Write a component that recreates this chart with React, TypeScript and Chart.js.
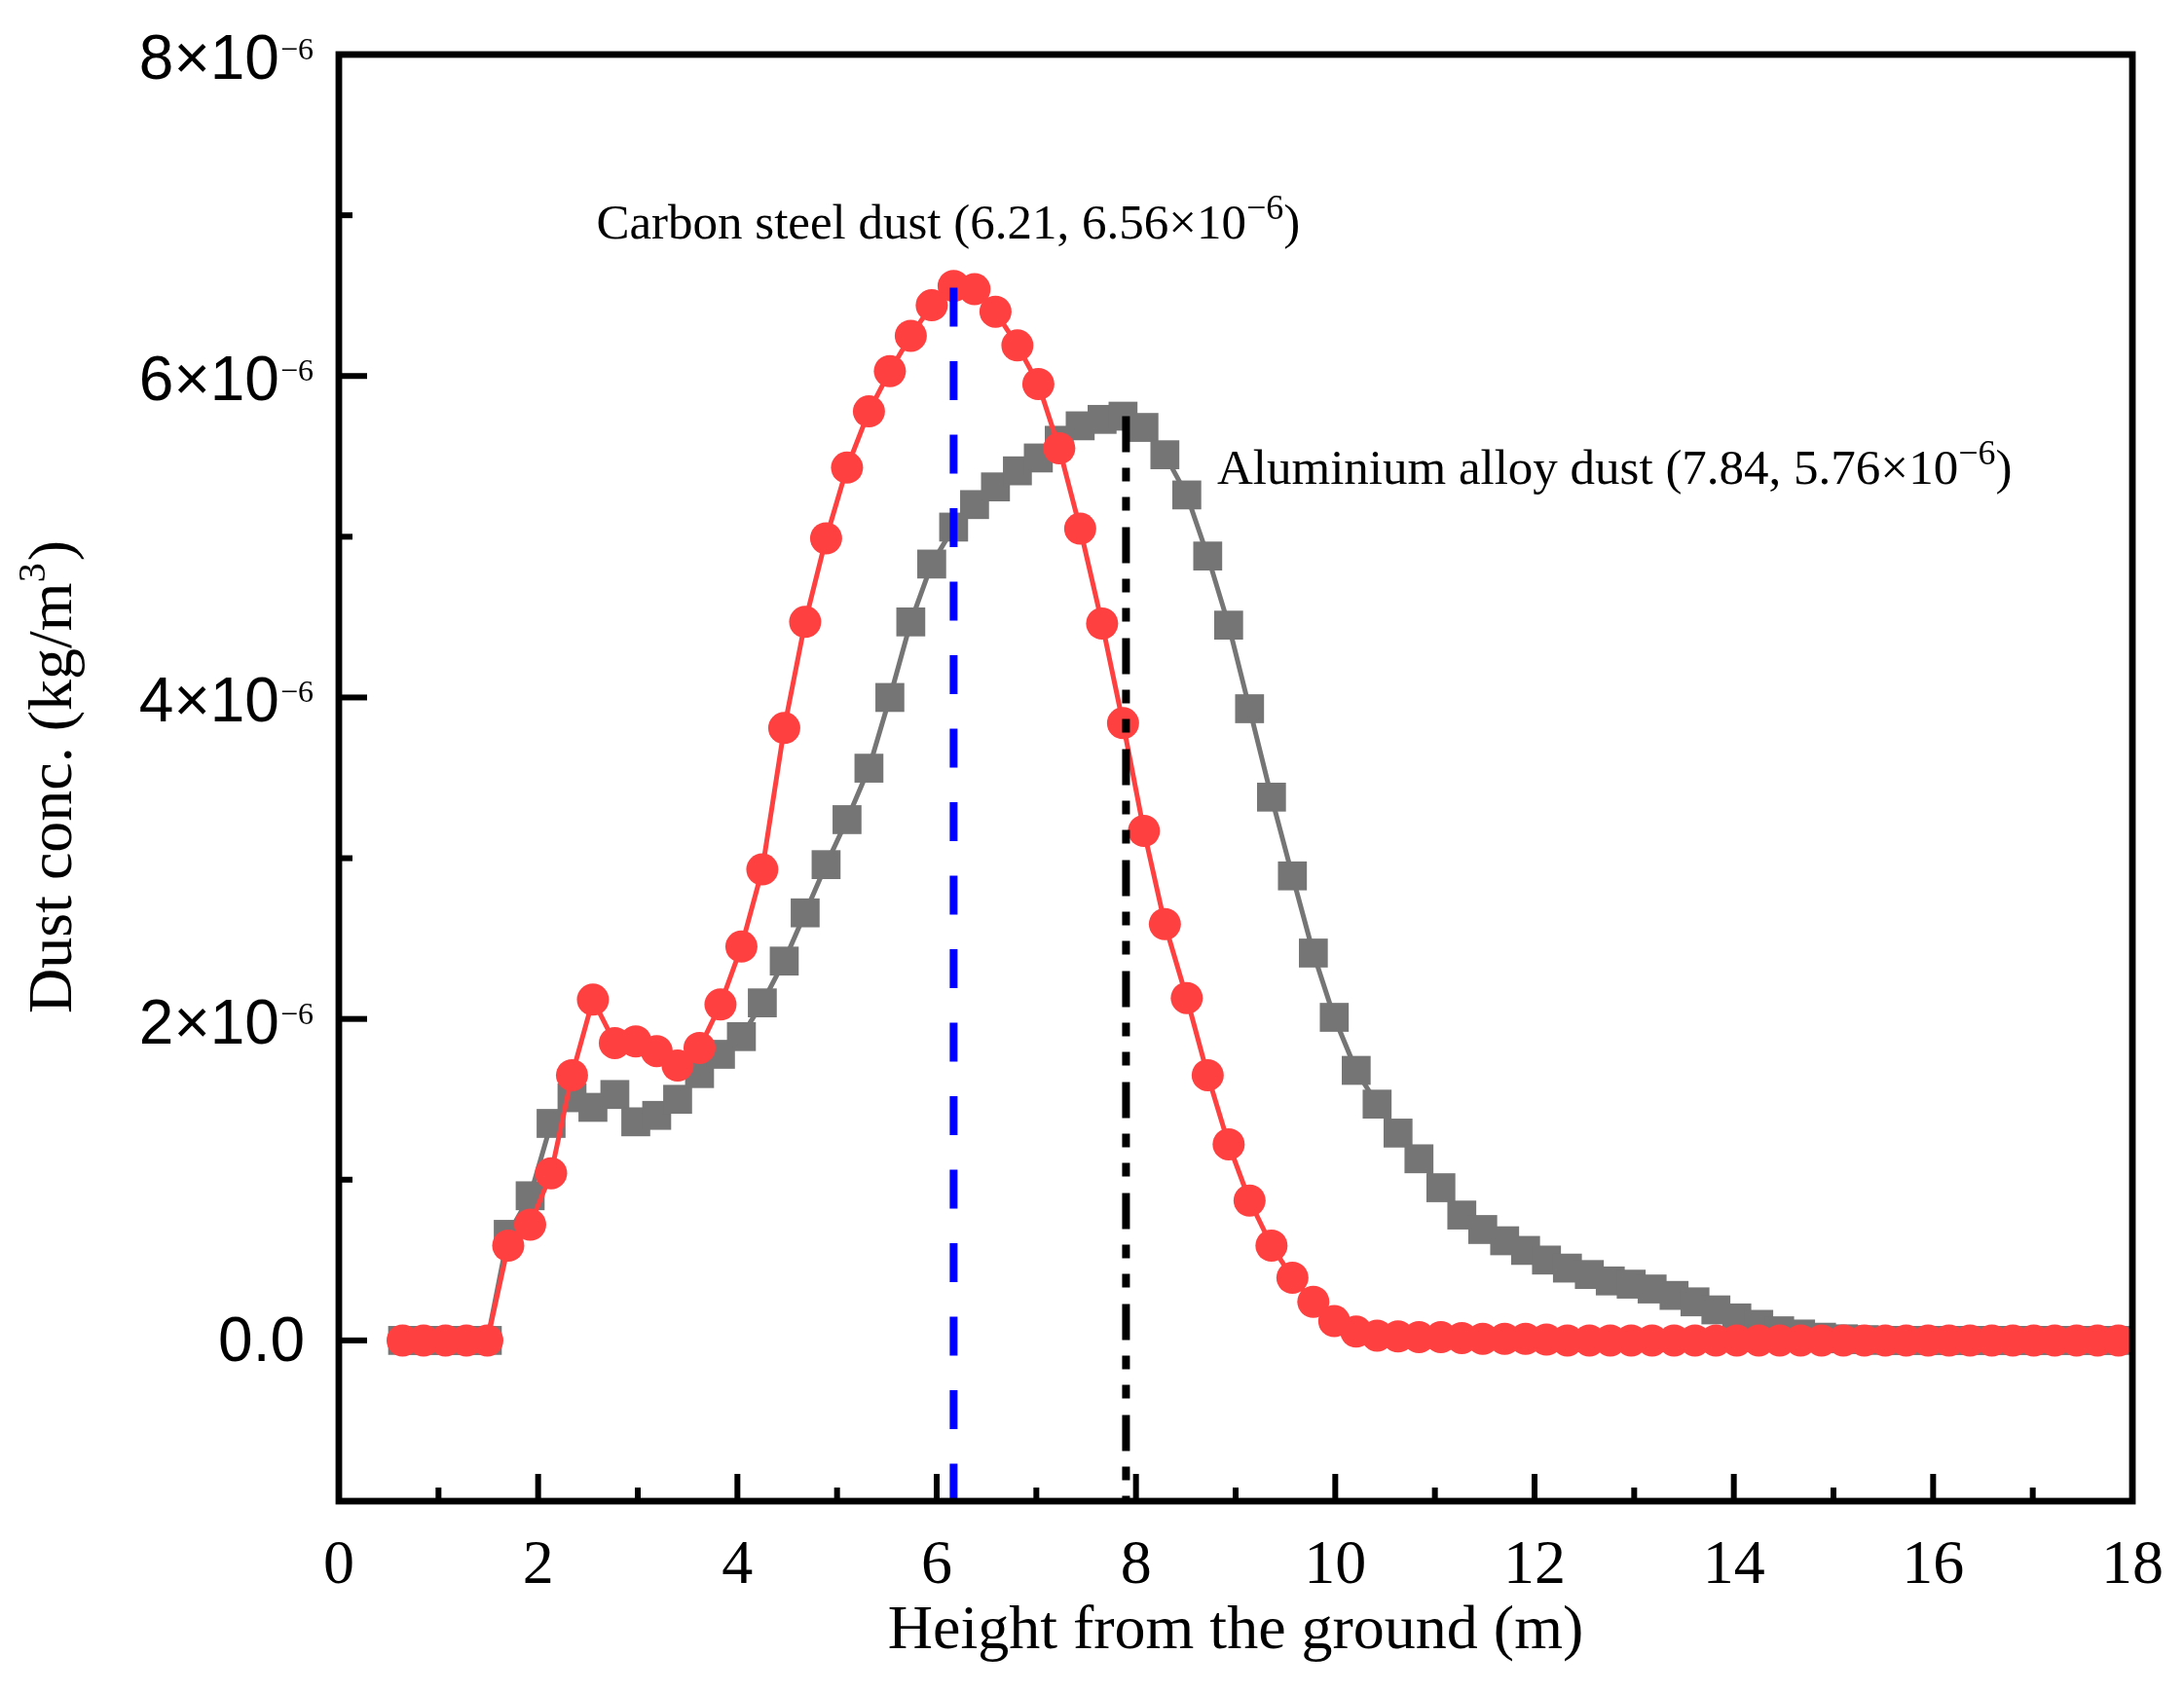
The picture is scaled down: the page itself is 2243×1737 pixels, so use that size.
import React, { useEffect, useRef } from 'react'
import { Chart, registerables } from 'chart.js'

Chart.register(...registerables)

// 离地高度 (m)
const heights = [
  0.64, 0.85, 1.07, 1.28, 1.49, 1.70, 1.92, 2.13, 2.34, 2.55,
  2.77, 2.98, 3.19, 3.40, 3.62, 3.83, 4.04, 4.25, 4.47, 4.68,
  4.89, 5.10, 5.32, 5.53, 5.74, 5.95, 6.17, 6.38, 6.59, 6.81,
  7.02, 7.23, 7.44, 7.66, 7.87, 8.08, 8.29, 8.51, 8.72, 8.93,
  9.14, 9.36, 9.57, 9.78, 9.99, 10.21, 10.42, 10.63, 10.84, 11.06,
  11.27, 11.48, 11.70, 11.91, 12.12, 12.33, 12.55, 12.76, 12.97, 13.18,
  13.40, 13.61, 13.82, 14.03, 14.25, 14.46, 14.67, 14.88, 15.10, 15.31,
  15.52, 15.73, 15.95, 16.16, 16.37, 16.59, 16.80, 17.01, 17.22, 17.44,
  17.65, 17.86,
]

// 碳钢粉尘浓度 (×10⁻⁶ kg/m³)
const carbonConc = [
  0, 0, 0, 0, 0, 0.59, 0.72, 1.04, 1.65, 2.12,
  1.85, 1.86, 1.80, 1.71, 1.82, 2.09, 2.45, 2.93, 3.81, 4.47,
  4.99, 5.43, 5.78, 6.03, 6.25, 6.44, 6.56, 6.54, 6.40, 6.19,
  5.95, 5.55, 5.05, 4.46, 3.84, 3.17, 2.59, 2.13, 1.65, 1.22,
  0.87, 0.59, 0.39, 0.24, 0.12, 0.055, 0.03, 0.025, 0.02, 0.02,
  0.015, 0.01, 0.01, 0.01, 0.005, 0, 0, 0, 0, 0,
  0, 0, 0, 0, 0, 0, 0, 0, 0, 0,
  0, 0, 0, 0, 0, 0, 0, 0, 0, 0,
  0, 0,
]

// 铝合金粉尘浓度 (×10⁻⁶ kg/m³)
const aluminiumConc = [
  0, 0, 0, 0, 0, 0.66, 0.90, 1.35, 1.51, 1.45,
  1.53, 1.36, 1.40, 1.50, 1.66, 1.78, 1.89, 2.10, 2.36, 2.66,
  2.96, 3.24, 3.56, 4.00, 4.47, 4.83, 5.06, 5.20, 5.31, 5.41,
  5.49, 5.60, 5.69, 5.73, 5.75, 5.68, 5.51, 5.26, 4.88, 4.45,
  3.93, 3.38, 2.89, 2.41, 2.01, 1.68, 1.47, 1.29, 1.13, 0.95,
  0.78, 0.69, 0.62, 0.56, 0.50, 0.45, 0.41, 0.37, 0.35, 0.32,
  0.28, 0.24, 0.19, 0.14, 0.10, 0.06, 0.04, 0.02, 0.01, 0.005,
  0, 0, 0, 0, 0, 0, 0, 0, 0, 0,
  0, 0,
]

// 峰值竖线 (x, 顶端 y)
const peakLineX = [6.17, 7.90]
const peakLineTop = [6.55, 5.75]

// 刻度
const xMajor = [0, 2, 4, 6, 8, 10, 12, 14, 16, 18]
const xMinor = [1, 3, 5, 7, 9, 11, 13, 15, 17]
const yMajor = [0, 2, 4, 6, 8]
const yMinor = [1, 3, 5, 7]
const yTickLabels = ['0.0', '2×10', '4×10', '6×10', '8×10']
const yTickExp = ['', '−6', '−6', '−6', '−6']

// 轴标题
const xTitle = 'Height from the ground (m)'
const yTitleParts = ['Dust conc. (kg/m', '3', ')']

// 注释文字
const notes = ['Carbon steel dust (6.21, 6.56×10', 'Aluminium alloy dust (7.84, 5.76×10']
const noteX = [2.584, 8.814]
const noteY = [6.856, 5.33]

const SERIF = '"Liberation Serif", "Times New Roman", serif'
const SANS = '"Liberation Sans", Arial, sans-serif'

const framePlugin = {
  id: 'frame',
  afterDatasetsDraw (chart: any) {
    const { ctx, chartArea: a, scales } = chart
    const x = scales.x
    const y = scales.y
    ctx.save()
    ctx.strokeStyle = '#000'
    ctx.fillStyle = '#000'
    ctx.lineCap = 'butt'

    // 边框
    ctx.lineWidth = 6.8
    ctx.strokeRect(a.left, a.top, a.right - a.left, a.bottom - a.top)

    // 刻度线（朝内）
    ctx.lineWidth = 6
    const seg = (x1: number, y1: number, x2: number, y2: number) => {
      ctx.beginPath()
      ctx.moveTo(x1, y1)
      ctx.lineTo(x2, y2)
      ctx.stroke()
    }
    xMajor.forEach(v => { const p = x.getPixelForValue(v); seg(p, a.bottom, p, a.bottom - 28) })
    xMinor.forEach(v => { const p = x.getPixelForValue(v); seg(p, a.bottom, p, a.bottom - 14) })
    yMajor.forEach(v => { const p = y.getPixelForValue(v); seg(a.left, p, a.left + 29, p) })
    yMinor.forEach(v => { const p = y.getPixelForValue(v); seg(a.left, p, a.left + 14, p) })

    // y 轴刻度标签
    yMajor.forEach((v, i) => {
      const p = y.getPixelForValue(v)
      ctx.textBaseline = 'alphabetic'
      if (!yTickExp[i]) {
        ctx.font = `64px ${SANS}`
        ctx.textAlign = 'right'
        ctx.fillText(yTickLabels[i], a.left - 35, p + 21)
        return
      }
      ctx.font = `32px ${SERIF}`
      const sw = ctx.measureText(yTickExp[i]).width
      const supLeft = a.left - 26 - sw
      const base = p + 25
      ctx.textAlign = 'left'
      ctx.fillText(yTickExp[i], supLeft, base - 20)
      ctx.font = `64px ${SANS}`
      ctx.textAlign = 'right'
      ctx.fillText(yTickLabels[i], supLeft - 1, base)
    })

    // y 轴标题（旋转，上标 3）
    ctx.save()
    ctx.translate(73, (a.top + a.bottom) / 2)
    ctx.rotate(-Math.PI / 2)
    ctx.textAlign = 'left'
    ctx.textBaseline = 'alphabetic'
    const fonts = [`64px ${SERIF}`, `40px ${SERIF}`, `64px ${SERIF}`]
    const widths = yTitleParts.map((t, i) => { ctx.font = fonts[i]; return ctx.measureText(t).width })
    let tx = -widths.reduce((s, w) => s + w, 0) / 2
    yTitleParts.forEach((t, i) => {
      ctx.font = fonts[i]
      ctx.fillText(t, tx, i === 1 ? -27 : 0)
      tx += widths[i] + (i === 1 ? 2 : 0)
    })
    ctx.restore()

    // 峰值注释
    notes.forEach((t, i) => {
      let px = x.getPixelForValue(noteX[i])
      const py = y.getPixelForValue(noteY[i])
      ctx.textAlign = 'left'
      ctx.textBaseline = 'alphabetic'
      ctx.font = `51px ${SERIF}`
      ctx.fillText(t, px, py)
      px += ctx.measureText(t).width
      ctx.font = `36px ${SERIF}`
      ctx.fillText('−6', px, py - 20)
      px += ctx.measureText('−6').width
      ctx.font = `51px ${SERIF}`
      ctx.fillText(')', px, py)
    })
    ctx.restore()
  },
}

export default function App () {
  const canvasRef = useRef<HTMLCanvasElement>(null)
  const chartRef = useRef<Chart | null>(null)

  useEffect(() => {
    if (!canvasRef.current) return
    if (chartRef.current) chartRef.current.destroy()

    const vline = (i: number) => [
      { x: peakLineX[i], y: peakLineTop[i] },
      { x: peakLineX[i], y: -1 },
    ]

    chartRef.current = new Chart(canvasRef.current, {
      type: 'line',
      data: {
        datasets: [
          {
            label: 'carbon peak',
            data: vline(0),
            borderColor: '#0000FF',
            borderWidth: 8,
            borderDash: [40, 35.5],
            pointRadius: 0,
          },
          {
            label: 'aluminium peak',
            data: vline(1),
            borderColor: '#000000',
            borderWidth: 8,
            borderDash: [37, 16, 14, 16, 14, 17],
            pointRadius: 0,
          },
          {
            label: 'Carbon steel dust',
            data: heights.map((h, i) => ({ x: h, y: carbonConc[i] })),
            borderColor: '#FF4040',
            backgroundColor: '#FF4040',
            borderWidth: 5,
            pointStyle: 'circle',
            pointRadius: 16.5,
            pointBorderWidth: 0,
          },
          {
            label: 'Aluminium alloy dust',
            data: heights.map((h, i) => ({ x: h, y: aluminiumConc[i] })),
            borderColor: '#757575',
            backgroundColor: '#757575',
            borderWidth: 5,
            pointStyle: 'rect',
            pointRadius: 21,
            pointBorderWidth: 0,
          },
        ],
      },
      options: {
        animation: false,
        responsive: true,
        maintainAspectRatio: false,
        devicePixelRatio: 1,
        layout: { padding: { left: 0, top: 56, right: 48, bottom: 0 } },
        plugins: {
          legend: { display: false },
          tooltip: { enabled: false },
        },
        scales: {
          x: {
            type: 'linear',
            min: 0,
            max: 18,
            grid: { display: false },
            border: { display: false },
            ticks: {
              stepSize: 2,
              autoSkip: false,
              maxRotation: 0,
              padding: 21,
              color: '#000',
              font: { family: SERIF, size: 64 },
              callback: (v: any) => String(v),
            },
            title: {
              display: true,
              text: xTitle,
              color: '#000',
              font: { family: SERIF, size: 64 },
              padding: { top: 0, bottom: 22 },
            },
            afterFit: (s: any) => { s.height = 195 },
          },
          y: {
            type: 'linear',
            min: -1,
            max: 8,
            grid: { display: false },
            border: { display: false },
            ticks: { display: false },
            afterFit: (s: any) => { s.width = 348 },
          },
        },
      },
      plugins: [framePlugin],
    } as any)

    if (document.fonts) {
      document.fonts.ready.then(() => chartRef.current?.update())
    }

    return () => {
      if (chartRef.current) {
        chartRef.current.destroy()
        chartRef.current = null
      }
    }
  }, [])

  return (
    <div style={{ position: 'fixed', left: 0, top: 0, width: 2243, height: 1737, background: '#fff' }}>
      <canvas ref={canvasRef} />
    </div>
  )
}
